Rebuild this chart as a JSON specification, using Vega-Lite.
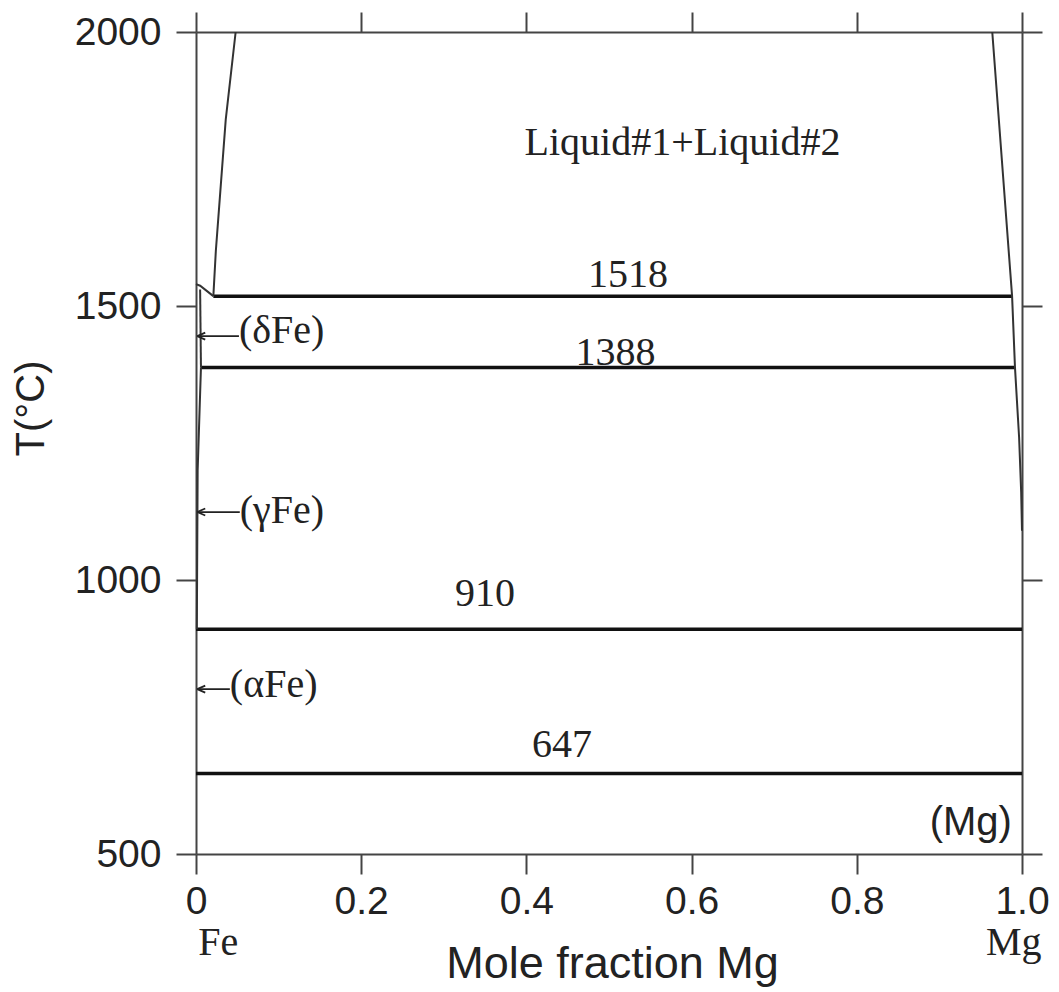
{
  "$schema": "https://vega.github.io/schema/vega-lite/v6.json",
  "width": 826,
  "height": 822,
  "autosize": "none",
  "padding": {"left": 196, "top": 32, "right": 37, "bottom": 138},
  "background": "white",
  "config": {
    "view": {"stroke": null},
    "axis": {
      "grid": false,
      "domainColor": "#444",
      "domainWidth": 2,
      "tickColor": "#444",
      "tickWidth": 2,
      "tickSize": 20,
      "labelFont": "Liberation Sans",
      "labelFontSize": 39,
      "labelColor": "#222",
      "titleFont": "Liberation Sans",
      "titleFontWeight": "normal",
      "titleColor": "#222"
    }
  },
  "datasets": {
    "isotherms": [
      {"x": 0.021, "x2": 0.988, "T": 1518},
      {"x": 0.006, "x2": 0.9915, "T": 1388},
      {"x": 0.0, "x2": 1.0, "T": 910},
      {"x": 0.0, "x2": 1.0, "T": 647}
    ],
    "curves": [
      {"curve": "L", "o": 1, "x": 0.048, "T": 2000},
      {"curve": "L", "o": 2, "x": 0.036, "T": 1840},
      {"curve": "L", "o": 3, "x": 0.024, "T": 1600},
      {"curve": "L", "o": 4, "x": 0.021, "T": 1518},
      {"curve": "M", "o": 1, "x": 0.0, "T": 1540},
      {"curve": "M", "o": 2, "x": 0.005, "T": 1537},
      {"curve": "M", "o": 3, "x": 0.021, "T": 1518},
      {"curve": "D", "o": 1, "x": 0.005, "T": 1530},
      {"curve": "D", "o": 2, "x": 0.006, "T": 1388},
      {"curve": "G", "o": 1, "x": 0.006, "T": 1388},
      {"curve": "G", "o": 2, "x": 0.002, "T": 1200},
      {"curve": "G", "o": 3, "x": 0.001, "T": 910},
      {"curve": "R", "o": 1, "x": 0.964, "T": 2000},
      {"curve": "R", "o": 2, "x": 0.988, "T": 1518},
      {"curve": "R", "o": 3, "x": 0.9915, "T": 1388},
      {"curve": "R", "o": 4, "x": 0.9965, "T": 1260},
      {"curve": "R", "o": 5, "x": 0.999, "T": 1160},
      {"curve": "R", "o": 6, "x": 1.0, "T": 1090}
    ],
    "arrows": [
      {"x": 0.0015, "x2": 0.052, "T": 1445},
      {"x": 0.0015, "x2": 0.053, "T": 1124},
      {"x": 0.0015, "x2": 0.041, "T": 801}
    ],
    "centerLabels": [
      {"label": "Liquid#1+Liquid#2", "x": 0.589, "T": 1776},
      {"label": "1518", "x": 0.523, "T": 1535},
      {"label": "1388", "x": 0.508, "T": 1392},
      {"label": "910", "x": 0.350, "T": 953},
      {"label": "647", "x": 0.443, "T": 677},
      {"label": "Fe", "x": 0.027, "T": 316},
      {"label": "Mg", "x": 0.990, "T": 316}
    ],
    "phaseLabels": [
      {"label": "(δFe)", "x": 0.052, "T": 1432},
      {"label": "(γFe)", "x": 0.053, "T": 1104},
      {"label": "(αFe)", "x": 0.041, "T": 786}
    ],
    "mgLabel": [
      {"label": "(Mg)", "x": 0.938, "T": 535}
    ]
  },
  "layer": [
    {
      "data": {"name": "isotherms"},
      "mark": {"type": "rule", "color": "#111", "strokeWidth": 3.5},
      "encoding": {
        "x": {
          "field": "x", "type": "quantitative",
          "scale": {"domain": [0, 1], "nice": false, "zero": false},
          "axis": {
            "orient": "bottom",
            "values": [0, 0.2, 0.4, 0.6, 0.8, 1.0],
            "labelExpr": "datum.value == 0 ? '0' : format(datum.value, '.1f')",
            "labelBaseline": "alphabetic",
            "labelPadding": 39,
            "labelFlush": false,
            "labelOverlap": false,
            "title": "Mole fraction Mg",
            "titleFontSize": 45,
            "titleBaseline": "alphabetic",
            "titleX": 416,
            "titleY": 123
          }
        },
        "x2": {"field": "x2"},
        "y": {
          "field": "T", "type": "quantitative",
          "scale": {"domain": [500, 2000], "nice": false, "zero": false},
          "axis": {
            "orient": "left",
            "values": [500, 1000, 1500, 2000],
            "format": "d",
            "labelPadding": 15,
            "labelFlush": false,
            "labelOverlap": false,
            "title": "T(°C)",
            "titleFontSize": 40,
            "titleBaseline": "alphabetic",
            "titleAngle": 270,
            "titleX": -153,
            "titleY": 376
          }
        }
      }
    },
    {
      "data": {"name": "curves"},
      "mark": {"type": "line", "color": "#333", "strokeWidth": 2},
      "encoding": {
        "x": {
          "field": "x", "type": "quantitative",
          "scale": {"domain": [0, 1], "nice": false, "zero": false},
          "axis": {"orient": "top", "values": [0, 0.2, 0.4, 0.6, 0.8, 1.0], "labels": false, "title": null}
        },
        "y": {
          "field": "T", "type": "quantitative",
          "scale": {"domain": [500, 2000], "nice": false, "zero": false},
          "axis": {"orient": "right", "values": [500, 1000, 1500, 2000], "labels": false, "title": null}
        },
        "detail": {"field": "curve"},
        "order": {"field": "o", "type": "quantitative"}
      }
    },
    {
      "data": {"name": "arrows"},
      "mark": {"type": "rule", "color": "#222", "strokeWidth": 1.8},
      "encoding": {
        "x": {"field": "x", "type": "quantitative", "axis": null},
        "x2": {"field": "x2"},
        "y": {"field": "T", "type": "quantitative", "axis": null}
      }
    },
    {
      "data": {"name": "arrows"},
      "mark": {"type": "point", "shape": "M0,0L1.6,-0.7M0,0L1.6,0.7", "filled": false, "color": "#222", "strokeWidth": 1.8, "size": 100, "opacity": 1},
      "encoding": {
        "x": {"field": "x", "type": "quantitative", "axis": null},
        "y": {"field": "T", "type": "quantitative", "axis": null}
      }
    },
    {
      "data": {"name": "centerLabels"},
      "mark": {"type": "text", "font": "Liberation Serif", "fontSize": 40, "color": "#222", "align": "center", "baseline": "alphabetic"},
      "encoding": {
        "x": {"field": "x", "type": "quantitative", "axis": null},
        "y": {"field": "T", "type": "quantitative", "axis": null},
        "text": {"field": "label"}
      }
    },
    {
      "data": {"name": "phaseLabels"},
      "mark": {"type": "text", "font": "Liberation Serif", "fontSize": 40, "color": "#222", "align": "left", "baseline": "alphabetic"},
      "encoding": {
        "x": {"field": "x", "type": "quantitative", "axis": null},
        "y": {"field": "T", "type": "quantitative", "axis": null},
        "text": {"field": "label"}
      }
    },
    {
      "data": {"name": "mgLabel"},
      "mark": {"type": "text", "font": "Liberation Sans", "fontSize": 40, "color": "#222", "align": "center", "baseline": "alphabetic"},
      "encoding": {
        "x": {"field": "x", "type": "quantitative", "axis": null},
        "y": {"field": "T", "type": "quantitative", "axis": null},
        "text": {"field": "label"}
      }
    }
  ],
  "resolve": {"axis": {"x": "independent", "y": "independent"}}
}
